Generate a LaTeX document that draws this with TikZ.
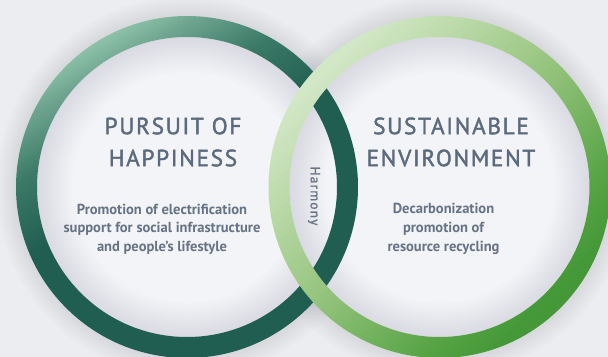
\documentclass[tikz,border=0pt]{standalone}
\usepackage{fontspec}
\setmainfont{PT Sans}
\newfontfamily\headfont[LetterSpace=7,FakeBold=1.6]{PT Sans}
\newfontfamily\harmfont[LetterSpace=9,FakeBold=1.2]{PT Sans}
\definecolor{bgcol}{HTML}{ECEDF1}
\definecolor{dishA}{HTML}{F3F4F7}
\definecolor{dishB}{HTML}{D9DAE2}
\definecolor{happyA}{HTML}{8CC0A8}
\definecolor{happyB}{HTML}{6FA590}
\definecolor{happyC}{HTML}{3A7A66}
\definecolor{happyD}{HTML}{215E52}
\definecolor{envA}{HTML}{D2E7C6}
\definecolor{envB}{HTML}{BEDBAC}
\definecolor{envC}{HTML}{92C27A}
\definecolor{envD}{HTML}{56A344}
\definecolor{envE}{HTML}{449837}
\definecolor{headink}{HTML}{5B6A7C}
\definecolor{bodyink}{HTML}{667385}
\definecolor{haze}{HTML}{9A9FAE}
\pgfdeclareradialshading{dish}{\pgfpoint{0bp}{0bp}}{color(0bp)=(dishA); color(19bp)=(dishA); color(25bp)=(dishB); color(50bp)=(dishB)}
\pgfdeclareverticalshading{happyring}{100bp}{color(0bp)=(happyD); color(53bp)=(happyD); color(63bp)=(happyC); color(71bp)=(happyB); color(75bp)=(happyA); color(100bp)=(happyA)}
\pgfdeclareverticalshading{envring}{100bp}{color(0bp)=(envE); color(27bp)=(envE); color(34bp)=(envD); color(50bp)=(envC); color(66bp)=(envB); color(74bp)=(envA); color(100bp)=(envA)}

\begin{document}
\begin{tikzpicture}[x=0.75pt, y=-0.75pt,
  every node/.style={align=center, inner sep=0pt},
  head/.style={text=headink, font=\headfont\fontsize{17.5}{24}\selectfont},
  body/.style={text=bodyink, font=\bfseries\fontsize{10.9}{14}\selectfont}]
\useasboundingbox (0,0) rectangle (608,357);
\fill[bgcol] (0,0) rectangle (608,357);
\coordinate (C1) at (187,187);
\coordinate (C2) at (439.5,187);
% soft halo round both rings
\foreach \k in {1,...,10}{
  \draw[haze, opacity=0.025, line width=\k*3pt] (C1) circle (128.25pt);
  \draw[haze, opacity=0.025, line width=\k*3pt] (C2) circle (128.25pt);
}
% inner dishes
\shade[shading=dish] (C1) circle (112.5pt);
\shade[shading=dish] (C2) circle (112.5pt);
% the two rings, right one on top
\shade[shading=happyring, shading angle=30, even odd rule] (C1) circle (128.25pt) (C1) circle (112.5pt);
\shade[shading=envring, shading angle=45, even odd rule] (C2) circle (128.25pt) (C2) circle (112.5pt);
% texts
\node[head] (HapTitle) at (173,142) {PURSUIT OF\\HAPPINESS};
\node[body] (HapBody) at (162,229) {Promotion of electrification\\support for social infrastructure\\and people's lifestyle};
\node[head] (EnvTitle) at (451,142) {SUSTAINABLE\\ENVIRONMENT};
\node[body] (EnvBody) at (443.5,229) {Decarbonization\\promotion of\\resource recycling};
\node[text=bodyink, rotate=-90, font=\harmfont\fontsize{10}{12}\selectfont] (Harm) at (314,196) {Harmony};
\end{tikzpicture}
\end{document}
